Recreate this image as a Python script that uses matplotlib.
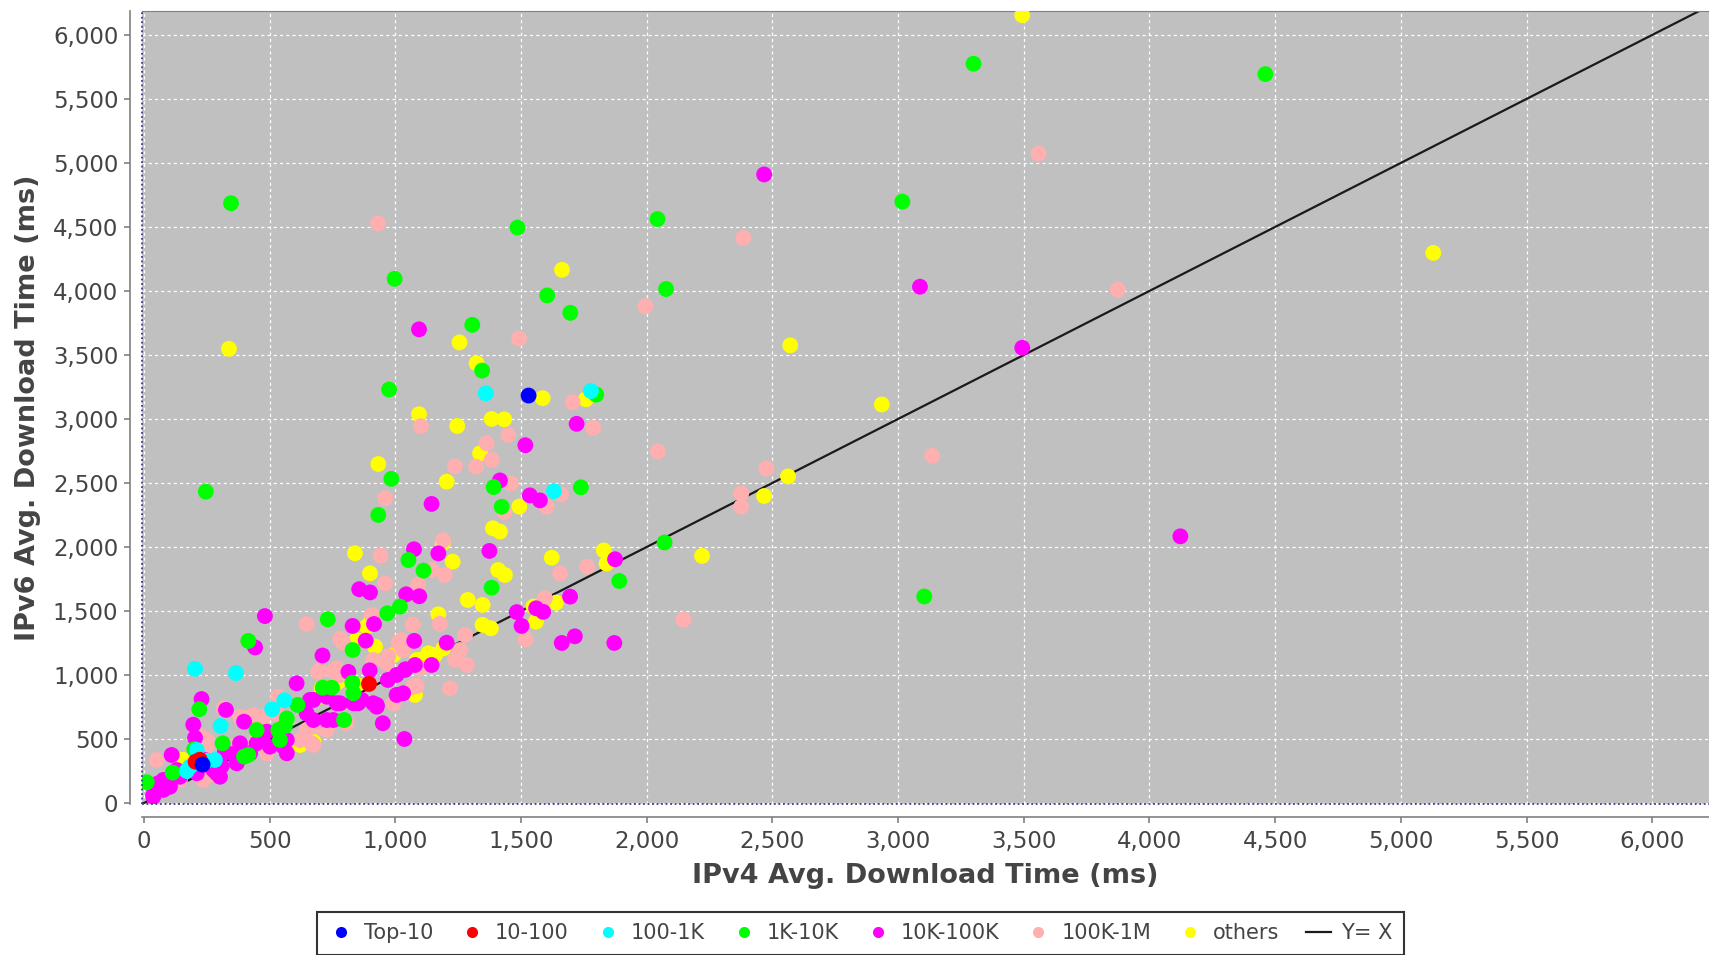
import matplotlib
matplotlib.use("Agg")
import matplotlib.pyplot as plt
from matplotlib.lines import Line2D
from matplotlib.ticker import FuncFormatter, MultipleLocator

# ---- data (ms) ----
top10_x = [233, 1530]
top10_y = [300, 3183]

r10_100_x = [205, 222, 895]
r10_100_y = [322, 338, 930]

r100_1k_x = [203, 366, 558, 510, 305, 210, 282, 183, 170, 250, 1360, 1778, 1631]
r100_1k_y = [1048, 1015, 803, 732, 602, 414, 336, 284, 250, 330, 3200, 3218, 2436]

r1k_10k_x = [346, 997, 1486, 1604, 1306, 1345, 975, 1799, 246, 1696, 2043, 2077, 3300,
             3017, 4461, 984, 932, 1738, 1391, 1423, 2071, 1891, 1383, 1052, 1112, 1018,
             968, 731, 3104, 415, 830, 220, 711, 747, 829, 833, 611, 796, 568, 448, 534,
             541, 313, 398, 415, 114, 11, 200, 560]
r1k_10k_y = [4685, 4095, 4495, 3965, 3735, 3378, 3230, 3190, 2432, 3829, 4562, 4015, 5775,
             4698, 5694, 2532, 2250, 2466, 2468, 2314, 2035, 1734, 1682, 1898, 1815, 1534,
             1482, 1435, 1613, 1266, 1195, 732, 901, 901, 940, 857, 766, 648, 660, 570, 570,
             492, 466, 362, 375, 237, 162, 420, 600]

r10k_100k_x = [2467, 3087, 3494, 4123, 1094, 1721, 1517, 1144, 1416, 1535, 1575, 1074, 1171,
               1374, 1874, 856, 899, 1043, 1095, 1695, 1483, 1560, 1588, 481, 1502, 1662,
               1714, 1871, 830, 915, 882, 1075, 1204, 1144, 1038, 1036, 1031,
               442, 229, 196, 203, 326, 398, 110, 57, 77, 37, 607, 710, 813, 898, 674, 727,
               767, 647, 674, 852, 926, 950, 1005, 970, 1005, 1040, 1078, 554, 568, 309,
               289, 210, 130, 243, 355, 382, 461, 488, 322, 727, 660, 780, 753, 833, 866,
               912, 926, 448, 501, 568, 369, 382, 422, 276, 302, 77, 50, 37, 103, 143]
r10k_100k_y = [4910, 4033, 3556, 2083, 3700, 2962, 2795, 2336, 2520, 2403, 2364, 1982, 1950,
               1969, 1904, 1670, 1645, 1630, 1615, 1612, 1491, 1521, 1493, 1460, 1383, 1250,
               1302, 1250, 1383, 1398, 1268, 1266, 1252, 1078, 1039, 500, 857,
               1215, 812, 612, 509, 727, 635, 375, 154, 102, 62, 935, 1152, 1024, 1036, 805,
               830, 779, 700, 648, 779, 766, 623, 844, 961, 1000, 1045, 1078, 440, 388, 289,
               232, 232, 258, 336, 382, 466, 488, 557, 402, 648, 805, 779, 648, 779, 805,
               779, 752, 466, 440, 492, 310, 414, 388, 258, 205, 180, 102, 49, 127, 205]

r100k_1m_x = [3559, 3874, 3136, 2384, 2376, 2376, 2476, 2146, 2044, 1995, 931, 1492, 1705,
              1787, 1102, 1449, 1363, 1383, 1321, 1237, 1460, 1659, 1602, 1434, 959, 1190,
              941, 959, 1091, 1197, 1144, 1655, 1763, 1595, 647, 780, 1069, 1177, 1518, 1277,
              1012, 1237, 1284, 1257, 1085, 1217, 1098, 1025, 906, 793, 972, 1031, 1071, 693,
              780, 753, 534, 700, 667, 621, 528, 442, 322, 50, 249, 395, 448, 992, 727, 806,
              276, 127, 700, 767, 316, 382, 435, 475, 647, 674, 223, 249, 355, 488, 236, 117,
              143, 912, 966]
r100k_1m_y = [5074, 4010, 2712, 4414, 2419, 2315, 2613, 1433, 2746, 3880, 4528, 3628, 3130,
              2930, 2943, 2875, 2810, 2680, 2627, 2630, 2497, 2411, 2315, 2272, 2380, 2052,
              1932, 1716, 1706, 1781, 1820, 1794, 1846, 1599, 1398, 1283, 1394, 1400, 1279, 1313,
              1252, 1120, 1078, 1195, 914, 896, 1052, 1273, 1469, 1252, 1148, 1195, 909, 1026,
              1000, 1026, 830, 596, 466, 492, 701, 674, 727, 336, 440, 440, 518, 779, 570, 623,
              223, 180, 1039, 1052, 740, 674, 687, 674, 570, 453, 518, 492, 440, 388, 180, 154,
              180, 1117, 1091]

others_x = [3494, 5129, 2571, 2935, 2562, 2467, 2220, 1829, 1840, 338, 1663, 1255, 1323, 1586,
            1758, 1094, 1246, 1383, 1433, 1337, 932, 1204, 1493, 1388, 1416, 839, 899, 1228,
            1188, 1409, 1436, 1622, 1288, 1347, 1639, 1559, 1347, 1380, 1171, 899,
            1549, 1131, 1085, 1191, 1078, 919, 886, 1138, 1098, 1158, 621, 674, 846, 707, 773,
            150, 992, 780, 846, 700, 395, 156, 216]
others_y = [6154, 4297, 3575, 3113, 2551, 2398, 1930, 1973, 1870, 3548, 4165, 3598, 3435, 3162,
            3154, 3037, 2945, 3000, 2997, 2732, 2648, 2510, 2315, 2146, 2120, 1951, 1794, 1885,
            2029, 1820, 1781, 1916, 1586, 1547, 1565, 1416, 1391, 1365, 1474, 1404,
            1534, 1169, 1117, 1208, 844, 1221, 1377, 1117, 1117, 1156, 453, 479, 1273, 896, 948,
            336, 1156, 974, 922, 830, 662, 336, 362]

# drawn in this order (last one on top)
series = [
    ("others", others_x, others_y, "#FFFF00"),
    ("100K-1M", r100k_1m_x, r100k_1m_y, "#FFAFAF"),
    ("10K-100K", r10k_100k_x, r10k_100k_y, "#FF00FF"),
    ("1K-10K", r1k_10k_x, r1k_10k_y, "#00FF00"),
    ("100-1K", r100_1k_x, r100_1k_y, "#00FFFF"),
    ("10-100", r10_100_x, r10_100_y, "#FF0000"),
    ("Top-10", top10_x, top10_y, "#0000FF"),
]
legend_order = ["Top-10", "10-100", "100-1K", "1K-10K", "10K-100K", "100K-1M", "others"]

xmax = 6226
ymax = 6187

fig = plt.figure(figsize=(17.09, 9.55), dpi=100)
ax = fig.add_axes([142/1709, 1-804/955, (1709-142)/1709, (804-11)/955])
ax.set_facecolor("#C0C0C0")

# y = x reference line, under the points
ax.plot([0, xmax], [0, xmax], color="#1a1a1a", lw=1.6, zorder=2)

for name, xs, ys, col in series:
    ax.scatter(xs, ys, s=130, color=col, edgecolors="none", zorder=3)

ax.set_xlim(-8, xmax)
ax.set_ylim(-8, ymax)

ax.xaxis.set_major_locator(MultipleLocator(500))
ax.yaxis.set_major_locator(MultipleLocator(500))
fmt = FuncFormatter(lambda v, p: "{:,.0f}".format(v))
ax.xaxis.set_major_formatter(fmt)
ax.yaxis.set_major_formatter(fmt)

ax.grid(True, color="white", linestyle=(0, (2.5, 2.5)), lw=0.9)
ax.set_axisbelow(True)

for side in ["left", "bottom"]:
    ax.spines[side].set_position(("outward", 9))
    ax.spines[side].set_color("#808080")
    ax.spines[side].set_linewidth(1.2)
ax.spines["top"].set_color("#808080")
ax.spines["right"].set_visible(False)

# dotted border of the data area
ax.plot([0, 0], [0, 1], transform=ax.transAxes, ls=(0, (1, 1.5)), color="#3a3a90", lw=1.3, clip_on=False, zorder=4)
ax.plot([0, 1], [0, 0], transform=ax.transAxes, ls=(0, (1, 1.5)), color="#3a3a90", lw=1.3, clip_on=False, zorder=4)

ax.tick_params(axis="both", colors="#808080", length=4, width=1.2, labelsize=16.5, labelcolor="#444444")
ax.tick_params(axis="y", pad=4)
ax.tick_params(axis="x", pad=6)

ax.set_xlabel("IPv4 Avg. Download Time (ms)", fontsize=19.5, fontweight="bold", color="#444444")
ax.set_ylabel("IPv6 Avg. Download Time (ms)", fontsize=19.5, fontweight="bold", color="#444444")
ax.xaxis.set_label_coords(0.5, (804-876)/793)
ax.xaxis.label.set_va("center")
ax.yaxis.set_label_coords((28-142)/1567, 0.5)
ax.yaxis.label.set_va("center")

# legend
cols = {n: c for n, _, _, c in series}
handles = [Line2D([], [], ls="none", marker="o", markersize=8, markerfacecolor=cols[n],
                  markeredgecolor="none") for n in legend_order]
handles.append(Line2D([], [], color="#1a1a1a", lw=1.6))
labels = legend_order + ["Y= X"]
leg = fig.legend(handles, labels, loc="upper center", bbox_to_anchor=(0.5035, 1-912/955),
                 ncol=8, fontsize=15, frameon=True, fancybox=False, edgecolor="black",
                 handlelength=1.2, handletextpad=0.5, columnspacing=1.27, borderpad=0.55,
                 borderaxespad=0)
leg.get_frame().set_linewidth(1.5)
for t in leg.get_texts():
    t.set_color("#444444")

fig.savefig("out.png", dpi=100)
